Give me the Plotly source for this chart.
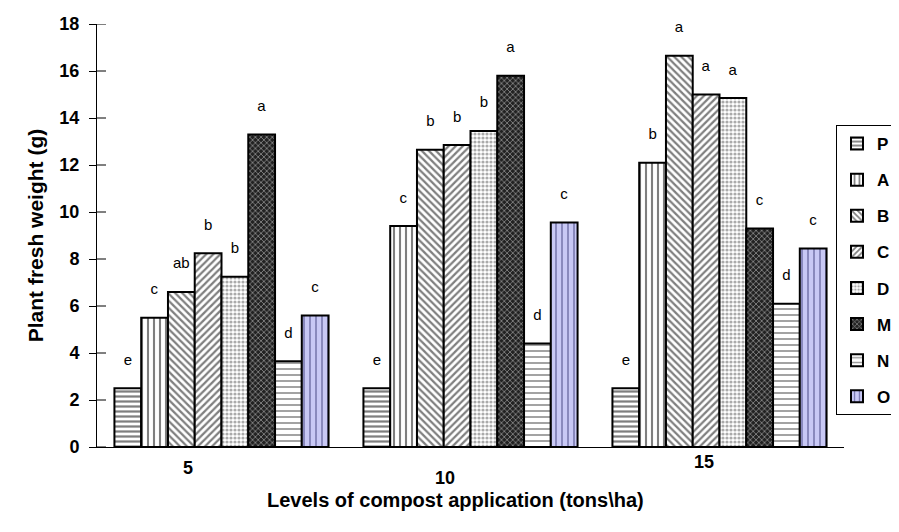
import plotly.graph_objects as go

levels = ["5", "10", "15"]
series_names = ["P", "A", "B", "C", "D", "M", "N", "O"]
values = {
    "P": [2.5, 2.5, 2.5],
    "A": [5.5, 9.4, 12.1],
    "B": [6.6, 12.65, 16.65],
    "C": [8.25, 12.85, 15.0],
    "D": [7.25, 13.45, 14.85],
    "M": [13.3, 15.8, 9.3],
    "N": [3.65, 4.4, 6.1],
    "O": [5.6, 9.55, 8.45],
}
letters = {
    "P": ["e", "e", "e"],
    "A": ["c", "c", "b"],
    "B": ["ab", "b", "a"],
    "C": ["b", "b", "a"],
    "D": ["b", "b", "a"],
    "M": ["a", "a", "c"],
    "N": ["d", "d", "d"],
    "O": ["c", "c", "c"],
}
y_ticks = list(range(0, 19, 2))

styles = {
    "P": dict(shape="-", bg="white", fg="black", size=5, solidity=0.45),
    "A": dict(shape="|", bg="white", fg="black", size=6, solidity=0.35),
    "B": dict(shape="\\", bg="white", fg="black", size=5, solidity=0.45),
    "C": dict(shape="/", bg="white", fg="black", size=5, solidity=0.45),
    "D": dict(shape=".", bg="white", fg="#555555", size=4, solidity=0.5),
    "M": dict(shape="x", bg="#222222", fg="white", size=4, solidity=0.35),
    "N": dict(shape="-", bg="white", fg="#333333", size=6, solidity=0.3),
    "O": dict(shape="|", bg="#c8c8f5", fg="#202060", size=6, solidity=0.25),
}

FONT = "Liberation Sans, Arial, sans-serif"

fig = go.Figure()
for name in series_names:
    s = styles[name]
    fig.add_trace(go.Bar(
        name=name,
        x=levels,
        y=values[name],
        text=letters[name],
        texttemplate="%{text}<br><span style='font-size:3px'> </span>",
        textposition="outside",
        constraintext="none",
        textfont=dict(family=FONT, size=15, color="black"),
        cliponaxis=False,
        legendgroup=name,
        marker=dict(
            color=s["bg"],
            line=dict(color="black", width=2),
            pattern=dict(shape=s["shape"], bgcolor=s["bg"], fgcolor=s["fg"],
                         size=s["size"], solidity=s["solidity"], fillmode="overlay"),
        ),
    ))

# staggered category labels as in the reference
label_shift = {"5": (-34, -21), "10": (-26, -31), "15": (-16, -15)}
for i, lv in enumerate(levels):
    dx, dy = label_shift[lv]
    fig.add_annotation(x=i, y=0, xref="x", yref="y", text="<b>%s</b>" % lv,
                       showarrow=False, xshift=dx, yshift=dy,
                       font=dict(family=FONT, size=18, color="black"))

# x-axis title
fig.add_annotation(x=0.5, y=0, xref="paper", yref="paper",
                   text="<b>Levels of compost application (tons\\ha)</b>",
                   showarrow=False, xshift=-15, yshift=-66,
                   font=dict(family=FONT, size=20, color="black"))

# inner halves of the crossing y ticks
for v in y_ticks:
    fig.add_shape(type="line", xref="paper", yref="y", xsizemode="pixel",
                  xanchor=0, x0=0, x1=9, y0=v, y1=v,
                  line=dict(color="black", width=1))

fig.update_layout(
    width=899, height=532,
    margin=dict(l=89, r=63, t=16, b=93, autoexpand=False),
    paper_bgcolor="white", plot_bgcolor="white",
    barmode="group", bargap=0.14, bargroupgap=0,
    font=dict(family=FONT, color="black"),
    legend=dict(
        xref="container", yref="container",
        x=828 / 899, xanchor="left", y=1 - 117 / 532, yanchor="top",
        bordercolor="black", borderwidth=1, maxheight=400,
        font=dict(family=FONT, size=17, color="black", weight="bold"),
        tracegroupgap=11, itemwidth=30,
    ),
    xaxis=dict(
        type="category", range=[-0.5, 2.5], automargin=False,
        showticklabels=False, showline=True, linecolor="black", linewidth=1,
        ticks="", showgrid=False, zeroline=False,
    ),
    yaxis=dict(
        range=[0, 18], tickvals=y_ticks, automargin=False,
        showline=True, linecolor="black", linewidth=1,
        ticks="outside", ticklen=7, tickcolor="black", showgrid=False, zeroline=False,
        ticklabelstandoff=6,
        tickfont=dict(family=FONT, size=18, color="black", weight="bold"),
        title=dict(text="<b>Plant fresh weight (g)</b>",
                   font=dict(family=FONT, size=21, color="black"), standoff=10),
    ),
)

fig.write_html("out.html")
